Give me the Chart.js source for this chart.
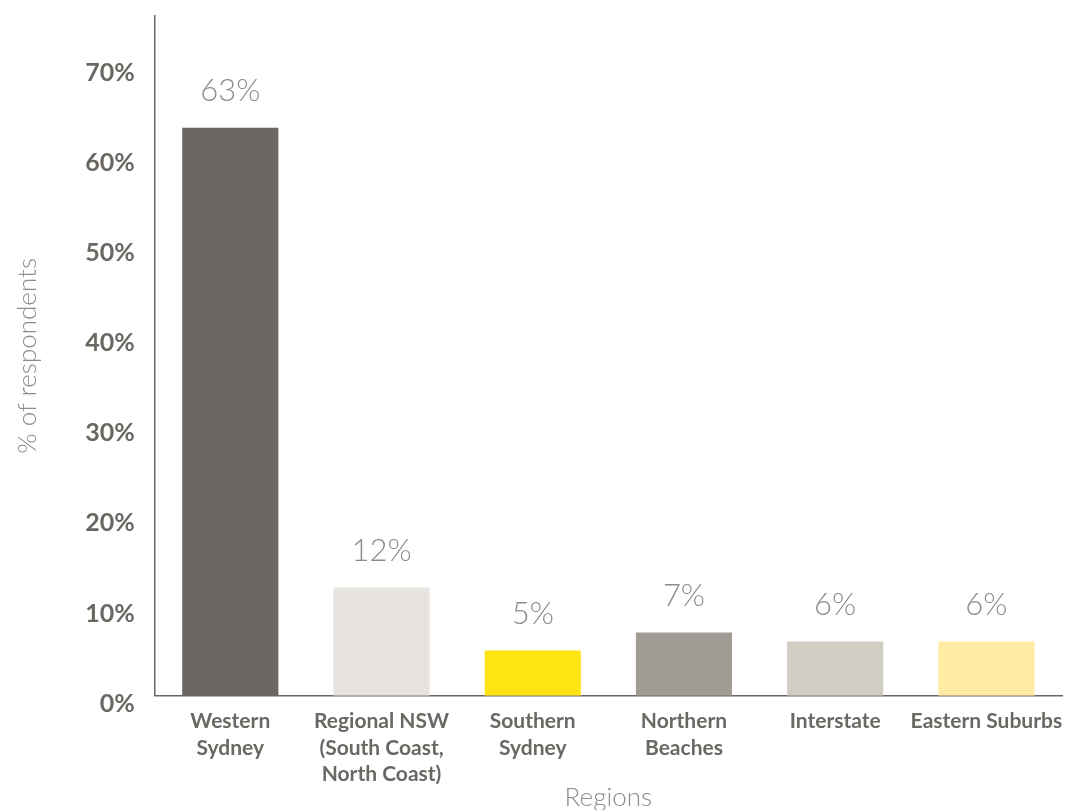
<!DOCTYPE html>
<html>
<head>
<meta charset="utf-8">
<script src="https://cdn.jsdelivr.net/npm/chart.js@4.4.1/dist/chart.umd.min.js"></script>
<style>
  html, body { margin: 0; padding: 0; background: #fff; overflow: hidden; }
  #wrap { width: 1067px; height: 815px; position: relative; }
</style>
</head>
<body>
<div id="wrap"><canvas id="chart"></canvas></div>
<script>
const regions = [
  ["Western", "Sydney"],
  ["Regional NSW", "(South Coast,", "North Coast)"],
  ["Southern", "Sydney"],
  ["Northern", "Beaches"],
  "Interstate",
  "Eastern Suburbs",
];
const shares = [63, 12, 5, 7, 6, 6];
const barColors = ["#6b6863", "#e7e3de", "#ffe414", "#a09c95", "#d2cec3", "#ffeba3"];
const yTicks = [0, 10, 20, 30, 40, 50, 60, 70];

const INK   = "#6b6863";
const LIGHT = "#8f8b86";

// value labels above each bar
const barValues = {
  id: "barValues",
  afterDatasetsDraw(chart) {
    const ctx = chart.ctx;
    const meta = chart.getDatasetMeta(0);
    ctx.save();
    ctx.font = "300 31px Lato";
    ctx.fillStyle = LIGHT;
    ctx.textAlign = "center";
    ctx.textBaseline = "middle";
    meta.data.forEach((bar, i) => {
      ctx.fillText(shares[i] + "%", bar.x, bar.y - 37);
    });
    ctx.restore();
  },
};

new Chart(document.getElementById("chart"), {
  type: "bar",
  data: {
    labels: regions,
    datasets: [{
      data: shares,
      backgroundColor: barColors,
      borderWidth: 0,
      barPercentage: 0.636,
      categoryPercentage: 1,
    }],
  },
  options: {
    responsive: true,
    maintainAspectRatio: false,
    animation: false,
    layout: { padding: { top: 16, right: 5, left: 12, bottom: 2 } },
    plugins: { legend: { display: false }, tooltip: { enabled: false } },
    scales: {
      x: {
        // let the last label hang over the right edge instead of squeezing the plot
        afterFit: s => { s.paddingLeft = 0; s.paddingRight = 0; },
        grid: { display: false, drawTicks: false },
        border: { color: INK, width: 1.5 },
        ticks: {
          color: INK,
          font: { family: "Lato", size: 21, weight: "bold", lineHeight: 1.24 },
          padding: 13,
          maxRotation: 0,
          autoSkip: false,
        },
        title: {
          display: true,
          text: "Regions",
          color: LIGHT,
          font: { family: "Lato", size: 26, weight: "300" },
          padding: { top: -18, bottom: 0 },
        },
      },
      y: {
        min: 0,
        max: 75.4,
        afterBuildTicks: axis => { axis.ticks = yTicks.map(v => ({ value: v })); },
        afterFit: s => { s.paddingTop = 0; },
        grid: { display: false, drawTicks: false },
        border: { color: INK, width: 1.5 },
        ticks: {
          color: INK,
          font: { family: "Lato", size: 25, weight: "bold" },
          padding: 20,
          labelOffset: 8,
          callback: v => v + "%",
        },
        title: {
          display: true,
          text: "% of respondents",
          color: LIGHT,
          font: { family: "Lato", size: 26, weight: "300" },
          padding: { top: 0, bottom: 22 },
        },
      },
    },
  },
  plugins: [barValues],
});
</script>
</body>
</html>
